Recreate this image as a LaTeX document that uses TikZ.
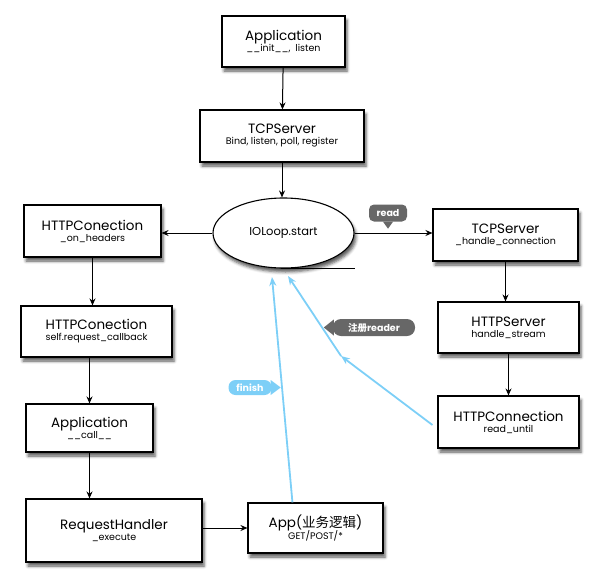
\documentclass[tikz,border=0pt]{standalone}
\usepackage{fontspec}
\setmainfont{Poppins}
\newfontfamily\cjk{Noto Sans CJK SC}
\usetikzlibrary{shapes.geometric,arrows.meta,shadows.blur,calc}
\definecolor{lblue}{HTML}{7DCFF7}
\definecolor{dgray}{HTML}{676767}
\tikzset{
  box/.style={draw=black, line width=1.1pt, fill=white, align=center, inner sep=2pt,
    blur shadow={shadow xshift=2pt, shadow yshift=-4pt, shadow blur radius=3pt, shadow opacity=65}},
  arr/.style={-{Stealth[length=7pt,width=6pt]}, line width=1pt},
  barr/.style={-{Stealth[length=9pt,width=7pt]}, draw=lblue, line width=1.8pt},
  tag/.style={text=white, font=\bfseries\fontsize{9.5}{10}\selectfont, inner sep=0pt},
}
\newcommand{\bx}[2]{{\fontsize{13.5}{14}\selectfont #1}\\[-1pt]{\fontsize{9.5}{10}\selectfont #2}}
\begin{document}
\begin{tikzpicture}[x=1pt,y=-1pt]
\useasboundingbox (0,0) rectangle (599,586);
\node[box, minimum width=123pt, minimum height=51pt] (app) at (283.5,41.5) {\bx{Application}{\_\_init\_\_, \ listen}};
\node[box, minimum width=164pt, minimum height=52pt] (tcp) at (282,136) {\bx{TCPServer}{Bind, listen, poll, register}};
\node[ellipse, box, minimum width=141pt, minimum height=70pt] (loop) at (283.5,233) {\fontsize{11.5}{13}\selectfont IOLoop.start};
\node[box, minimum width=137pt, minimum height=52pt] (hc1) at (92.5,231) {\bx{HTTPConection}{\_on\_headers}};
\node[box, minimum width=145pt, minimum height=52pt] (tcp2) at (505.5,235) {\bx{TCPServer}{\_handle\_connection}};
\node[box, minimum width=141pt, minimum height=51pt] (hs) at (508.5,327.5) {\bx{HTTPServer}{handle\_stream}};
\node[box, minimum width=141pt, minimum height=52pt] (hconn) at (508.5,422) {\bx{HTTPConnection}{read\_until}};
\node[box, minimum width=151pt, minimum height=51pt] (hc2) at (96.5,331.5) {\bx{HTTPConection}{self.request\_callback}};
\node[box, minimum width=127pt, minimum height=48pt] (appcall) at (89.5,428) {\bx{Application}{\_\_call\_\_}};
\node[box, minimum width=176pt, minimum height=63pt] (rh) at (114,530.5) {\bx{RequestHandler}{\_execute}};
\node[box, minimum width=135pt, minimum height=50pt] (biz) at (315.5,528) {\bx{App({\cjk 业务逻辑})}{GET/POST/*}};

% black connectors
\draw[arr] (app) -- (tcp);
\draw[arr] (tcp.south) -- (tcp.south |- loop.north);
\draw[arr] (loop.west) -- (hc1.east |- loop.west);
\draw[arr] (loop.east) -- (tcp2.west |- loop.east);
\draw[arr] (tcp2.south) -- (tcp2.south |- hs.north);
\draw[arr] (hs) -- (hconn);
\draw[arr] (hc1.south) -- (hc1.south |- hc2.north);
\draw[arr] (appcall.north |- hc2.south) -- (appcall.north);
\draw[arr] (appcall.south) -- (appcall.south |- rh.north);
\draw[arr] (rh.east |- biz.west) -- (biz.west);
\draw[line width=1pt] ($(loop.south)+(-3,0)$) -- ++(74,0);

% blue connectors
\coordinate (bizup) at ($(biz.north west)+(45,0)$);
\coordinate (lt1) at (272,277);
\coordinate (mid) at (341,356);
\coordinate (lt2) at (288,276);
\coordinate (hcl) at ($(hconn.west)+(-5,3)$);
\draw[barr] (bizup) -- (lt1);
\draw[barr] (hcl) -- (mid);
\draw[barr] (mid) -- (lt2);

% tags
\node[tag, fill=dgray, rounded corners=5pt, minimum width=38pt, minimum height=17pt] (read) at (388,213) {read};
\fill[dgray] ($(read.south)+(-5,0)$) -- ($(read.south)+(0,7)$) -- ($(read.south)+(5,0)$) -- cycle;
\node[tag, fill=dgray, rounded corners=8pt, minimum width=82pt, minimum height=17pt] (reg) at (374,327.5) {{\cjk\bfseries 注册}reader};
\fill[dgray] ($(reg.west)+(1,-8)$) -- ($(reg.west)+(-9,0)$) -- ($(reg.west)+(1,8)$) -- cycle;
\node[tag, fill=lblue, rounded corners=7pt, minimum width=43pt, minimum height=15pt] (fin) at (250,387.5) {finish};
\fill[lblue] ($(fin.east)+(-1,-7.5)$) -- ($(fin.east)+(9,0)$) -- ($(fin.east)+(-1,7.5)$) -- cycle;
\end{tikzpicture}
\end{document}
